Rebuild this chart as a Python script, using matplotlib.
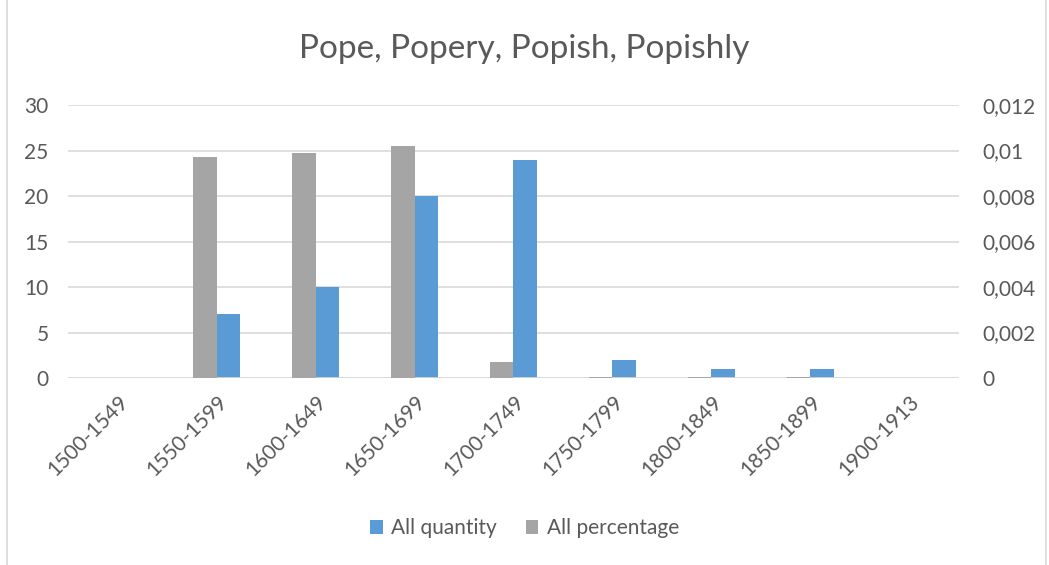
import matplotlib.pyplot as plt
import numpy as np
from matplotlib.ticker import FuncFormatter
from matplotlib.patches import Rectangle

plt.rcParams['font.family'] = ['Lato', 'DejaVu Sans']

periods = ['1500-1549', '1550-1599', '1600-1649', '1650-1699', '1700-1749',
           '1750-1799', '1800-1849', '1850-1899', '1900-1913']
quantity = [0, 7, 10, 20, 24, 2, 1, 1, 0]
percentage = [0, 0.0097, 0.0099, 0.0102, 0.0007, 0.00006, 0.00006, 0.00006, 0]

blue = '#5b9bd5'
gray = '#a5a5a5'
txt = '#595959'

fig = plt.figure(figsize=(10.49, 5.65), dpi=100)
ax = fig.add_axes([0.065, 0.331, 0.849, 0.483])
ax2 = ax.twinx()

x = np.arange(len(periods))
w = 0.24
ax2.bar(x - w / 2, percentage, w, color=gray, label='All percentage', zorder=3)
ax.bar(x + w / 2, quantity, w, color=blue, label='All quantity', zorder=3)

ax.set_xlim(-0.5, len(periods) - 0.5)
ax.set_ylim(0, 30)
ax2.set_ylim(0, 0.012)
ax.set_yticks(range(0, 31, 5))
ax2.set_yticks(np.arange(0, 0.0121, 0.002))
ax2.yaxis.set_major_formatter(FuncFormatter(
    lambda v, p: '0' if v == 0 else ('%g' % round(v, 4)).replace('.', ',')))

ax.grid(axis='y', color='#d9d9d9', linewidth=1.2, zorder=0)
ax.set_axisbelow(True)
for a in (ax, ax2):
    for s in a.spines.values():
        s.set_visible(False)
    a.tick_params(length=0, labelsize=15, colors=txt)
ax.tick_params(axis='y', pad=14)
ax2.tick_params(axis='y', pad=17)
ax.set_xticks(x)
ax.set_xticklabels(periods, rotation=45, ha='right', rotation_mode='anchor')
ax.tick_params(axis='x', pad=10)
ax.axhline(0, color='#d9d9d9', linewidth=1.2, zorder=4)

fig.suptitle('Pope, Popery, Popish, Popishly', y=0.94, fontsize=24, color=txt)

h1, l1 = ax.get_legend_handles_labels()
h2, l2 = ax2.get_legend_handles_labels()
fig.legend(h1 + h2, l1 + l2, loc='center', bbox_to_anchor=(0.5, 0.065), ncol=2,
           frameon=False, fontsize=15, labelcolor=txt, handlelength=0.6,
           handleheight=0.6, handletextpad=0.4, columnspacing=1.4)

fig.patches.append(Rectangle((0.007, -0.01), 0.99, 1.02, transform=fig.transFigure,
                             fill=False, edgecolor='#d9d9d9', linewidth=1.2))

plt.savefig('out.png')
